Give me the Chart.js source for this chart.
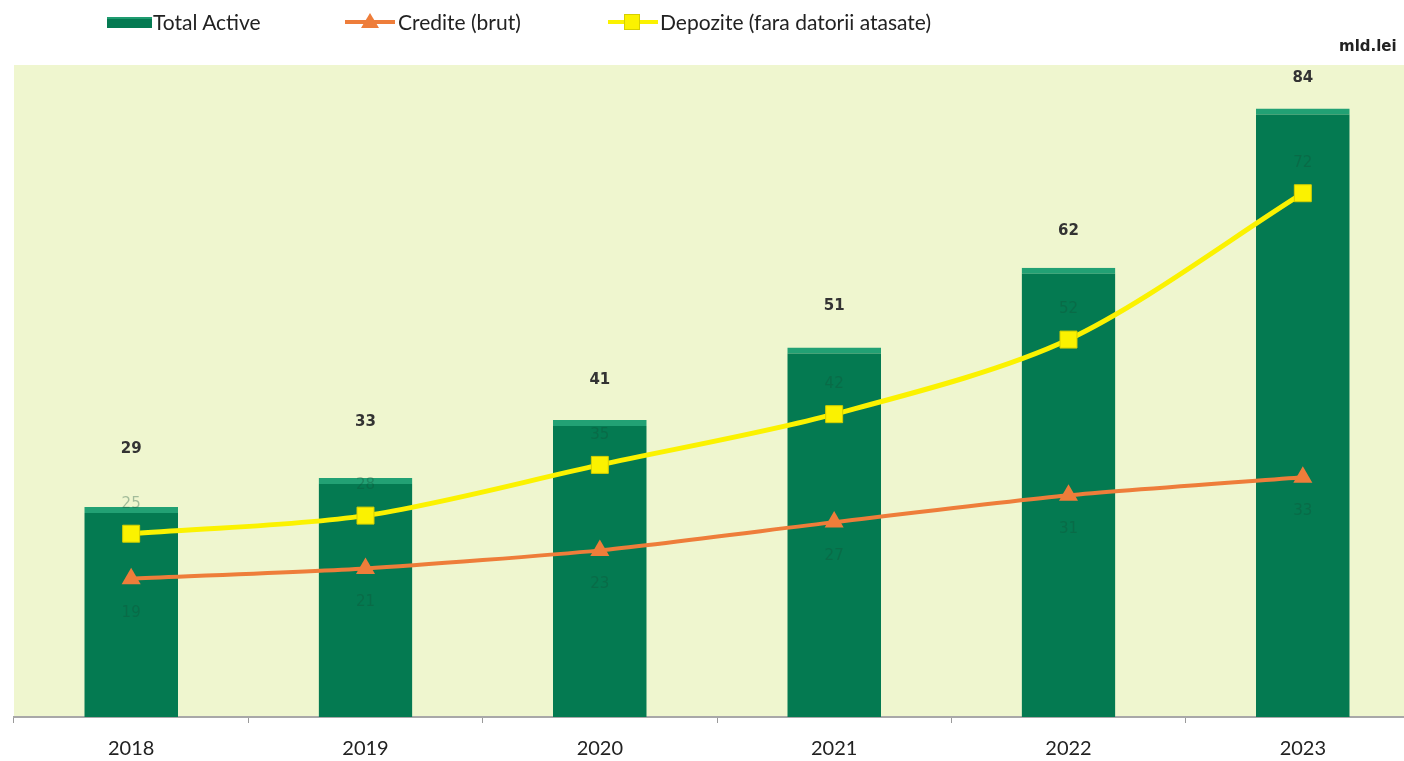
<!DOCTYPE html>
<html>
<head>
<meta charset="utf-8">
<script src="https://cdn.jsdelivr.net/npm/chart.js@4.4.1/dist/chart.umd.min.js"></script>
<style>
  html, body { margin: 0; padding: 0; background: #fff; overflow: hidden; width: 1404px; height: 761px; }
  #wrap { position: relative; width: 1433px; height: 775px; }
  .leg { position: absolute; top: 9px; font: 21px Lato, sans-serif; color: #222; white-space: nowrap; line-height: 26px; }
  .unit { position: absolute; top: 37px; left: 1339px; font: bold 15px "DejaVu Sans", sans-serif; color: #222; }
  #legBar { position: absolute; left: 107px; top: 17px; width: 45px; height: 11px; background: #057a52; border-top: 2px solid #1f9c70; box-sizing: border-box; }
  .legLine { position: absolute; height: 4px; width: 50px; top: 20px; }
</style>
</head>
<body>
<div id="wrap">
  <canvas id="chart" width="1433" height="775"></canvas>
  <div id="legBar"></div>
  <div class="leg" style="left:153px">Total Active</div>
  <div class="legLine" style="left:345px;background:#ee7d3a"></div>
  <div style="position:absolute;left:361px;top:13px;width:0;height:0;border-left:9px solid transparent;border-right:9px solid transparent;border-bottom:15px solid #ee7d3a"></div>
  <div class="leg" style="left:398px">Credite (brut)</div>
  <div class="legLine" style="left:608px;background:#fbf200"></div>
  <div style="position:absolute;left:624px;top:14px;width:16px;height:16px;background:#fbf200;border:1px solid #d6cf00;box-sizing:border-box"></div>
  <div class="leg" style="left:660px">Depozite (fara datorii atasate)</div>
  <div class="unit">mld.lei</div>
</div>
<script>
const years = ['2018', '2019', '2020', '2021', '2022', '2023'];
const totalActive = [29, 33, 41, 51, 62, 84];
const credite = [19.1, 20.5, 23, 26.9, 30.6, 33.1];
const depozite = [25.3, 27.8, 34.8, 41.8, 52.1, 72.3];

// how far each bar label sits above its bar (the labels were moved by hand)
const barLabelLift = [58, 56, 40, 41, 37, 30];

const plotBg = {
  id: 'plotBg',
  beforeDraw(chart) {
    const { ctx, chartArea: a } = chart;
    ctx.save();
    ctx.fillStyle = '#eff6cf';
    ctx.fillRect(a.left, a.top, a.right - a.left, a.bottom - a.top);
    ctx.restore();
  }
};

const valueLabels = {
  id: 'valueLabels',
  afterDatasetsDraw(chart) {
    const ctx = chart.ctx;
    ctx.save();
    ctx.textAlign = 'center';
    ctx.textBaseline = 'middle';
    ctx.font = 'bold 15px "DejaVu Sans", sans-serif';
    ctx.fillStyle = '#333';
    chart.getDatasetMeta(0).data.forEach((el, i) => {
      ctx.fillText(totalActive[i], el.x, el.y - barLabelLift[i]);
    });
    // line values: dark on the dark bars, barely visible in the original
    ctx.font = '15px "DejaVu Sans", sans-serif';
    ctx.fillStyle = 'rgba(20,80,55,0.35)';
    chart.getDatasetMeta(2).data.forEach((el, i) => {
      ctx.fillText(Math.round(depozite[i]), el.x, el.y - 30);
    });
    chart.getDatasetMeta(1).data.forEach((el, i) => {
      ctx.fillText(Math.round(credite[i]), el.x, el.y + 34);
    });
    ctx.restore();
  }
};

new Chart(document.getElementById('chart').getContext('2d'), {
  type: 'bar',
  data: {
    labels: years,
    datasets: [
      {
        type: 'bar',
        label: 'Total Active',
        data: totalActive,
        backgroundColor: '#047a51',
        borderColor: '#22a174',
        borderWidth: { top: 6, left: 0, right: 0, bottom: 0 },
        borderSkipped: 'bottom',
        categoryPercentage: 1,
        barPercentage: 0.4,
        order: 3
      },
      {
        type: 'line',
        label: 'Credite (brut)',
        data: credite,
        borderColor: '#ee7d3a',
        borderWidth: 4,
        backgroundColor: '#ee7d3a',
        pointStyle: 'triangle',
        pointRadius: 11,
        pointBorderWidth: 0,
        tension: 0.2,
        order: 2
      },
      {
        type: 'line',
        label: 'Depozite (fara datorii atasate)',
        data: depozite,
        borderColor: '#fbf200',
        borderWidth: 5,
        backgroundColor: '#fbf200',
        pointStyle: 'rect',
        pointRadius: 12,
        pointBorderColor: '#d6cf00',
        pointBorderWidth: 1,
        tension: 0.3,
        order: 1
      }
    ]
  },
  options: {
    responsive: false,
    animation: false,
    layout: { padding: { top: 65, left: 14, right: 0, bottom: 0 } },
    plugins: {
      legend: { display: false },
      tooltip: { enabled: false }
    },
    scales: {
      x: {
        grid: { drawOnChartArea: false, tickLength: 6, color: '#9a9a9a', offset: true },
        border: { display: true, color: '#a8a8a8', width: 2 },
        ticks: { color: '#222', font: { family: 'Lato', size: 20 }, padding: 14 }
      },
      y: {
        display: false,
        min: 0,
        max: 90
      }
    }
  },
  plugins: [plotBg, valueLabels]
});
</script>
</body>
</html>
